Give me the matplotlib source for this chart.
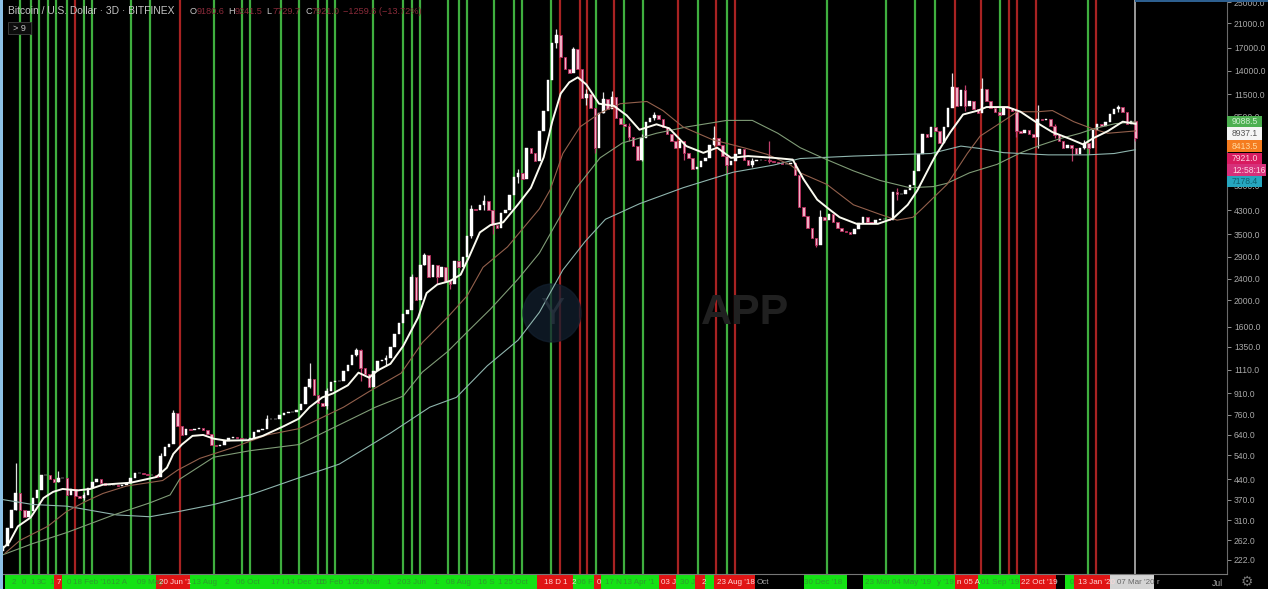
import numpy as np
import matplotlib
matplotlib.use("Agg")
from matplotlib import pyplot as plt
from matplotlib.patches import Rectangle, Circle

W, H = 1268, 589
plt.rcParams['font.family'] = ['Liberation Sans', 'DejaVu Sans']

# closes of every second 3D bar, the last one is the live bar
closes = [250, 290, 340, 390, 340, 318, 335, 375, 400, 455, 455, 440, 430, 445, 445, 385, 405, 380, 375, 385,
          410, 430, 440, 425, 420, 420, 420, 415, 420, 425, 445, 465, 465, 460, 455, 455, 450, 535, 580, 595,
          770, 690, 640, 675, 670, 675, 680, 665, 645, 590, 585, 590, 610, 625, 630, 625, 620, 620, 625, 655,
          665, 675, 730, 730, 730, 760, 770, 780, 780, 790, 830, 960, 1030, 900, 840, 820, 930, 1000, 1010, 1010,
          1100, 1160, 1260, 1310, 1130, 1070, 960, 1100, 1200, 1210, 1230, 1350, 1500, 1650, 1780, 1850, 2450, 2000, 2700, 2950,
          2450, 2700, 2450, 2650, 2350, 2300, 2800, 2650, 2900, 3450, 4350, 4300, 4500, 4650, 4300, 3780, 3700, 4200, 4300, 4900,
          5700, 5900, 5600, 7300, 6950, 6500, 8400, 10000, 13000, 17700, 19000, 15700, 14200, 13800, 16800, 14200, 11100, 11500, 10200, 7300,
          9800, 11000, 10100, 11200, 9400, 8900, 8800, 8000, 7400, 6600, 7900, 9100, 9400, 9600, 9300, 8700, 8200, 7700, 7300, 7700,
          7000, 6700, 6100, 6200, 6500, 6700, 7500, 7900, 7500, 6800, 6300, 6500, 6900, 7200, 6600, 6300, 6500, 6600, 6600, 6550,
          6500, 6450, 6400, 6350, 6350, 6400, 5800, 4400, 4100, 3700, 3400, 3200, 4050, 3950, 4150, 3900, 3700, 3600, 3580, 3500,
          3650, 3850, 4050, 3900, 3850, 3950, 3980, 4000, 3950, 5000, 4950, 4950, 5100, 5300, 6000, 6900, 8200, 8000, 8700, 8400,
          7600, 8700, 10200, 12200, 10400, 11900, 10400, 10800, 10100, 9800, 12000, 10800, 10200, 9900, 9600, 10300, 10200, 10000, 8400, 8300,
          8500, 8200, 8000, 9300, 9200, 9300, 8800, 8100, 7700, 7300, 7500, 7300, 6900, 7300, 7600, 7300, 8500, 8900, 8800, 9100,
          9700, 10100, 10300, 9900, 8900, 9180.6, 7921]

# candles with a wick worth drawing: position in closes, high, low
wick_idx = [3, 13, 19, 37, 40, 62, 72, 76, 83, 84, 90, 96, 99, 102, 105, 110, 113, 115, 121, 130, 134, 137, 139, 141, 143, 147, 150,
            153, 160, 167, 170, 176, 180, 191, 192, 210, 223, 226, 230, 238, 243, 247, 251, 254, 255, 262, 266]
wick_high = [505, 470, 395, 550, 790, 760, 1180, 950, 1340, 1330, 1260, 2500, 3000, 2600, 2400, 4500, 4900, 3900, 6100, 20000, 17200, 12000, 9000, 11700, 11800, 9000, 8200,
             9900, 7300, 8800, 6500, 6700, 7700, 3300, 4300, 5200, 13700, 12400, 13200, 10200, 10500, 8900, 7500, 7800, 7600, 10500, 9241.5]
wick_low = [340, 430, 370, 500, 600, 700, 950, 800, 1250, 1010, 1150, 1950, 2700, 2300, 2200, 3400, 4300, 3500, 5400, 17000, 14000, 10500, 6950, 9800, 10200, 7700, 6500,
            9200, 6600, 7400, 5900, 6200, 6400, 3150, 3250, 4700, 10800, 10000, 10600, 8000, 7300, 7900, 6500, 7200, 6900, 9900, 7729.7]

white_x = [0, 3, 7, 13, 16, 19, 23.5, 28, 35, 41, 47, 60, 72, 77, 80, 84, 89, 94, 99, 105, 115, 122, 132, 139, 144, 150, 155,
           162, 167, 172, 176, 182, 188, 195, 199, 204, 210, 215, 219, 224, 229, 235, 242, 248, 254, 258, 262, 266, 270, 274,
           280, 287, 293, 299, 307, 313, 321, 329, 335.5, 342, 350, 362, 371, 376, 382.5, 388, 393, 401, 411, 418, 425, 429.5,
           436, 438, 445, 451, 458, 462, 472, 478, 486, 493, 501, 507.5, 512, 519, 526, 532]
white_y = [245, 258, 295, 318, 345, 375, 395, 405, 400, 405, 420, 427, 448, 485, 545, 590, 635, 640, 620, 610, 612, 635, 690, 735, 810, 880, 910,
           975, 1085, 1040, 1105, 1170, 1360, 1730, 2130, 2290, 2360, 2490, 2900, 3560, 3790, 3880, 4520, 5200, 6730, 9100, 11550, 12700, 13250, 12480,
           10600, 10400, 9600, 8500, 8900, 8600, 7400, 6990, 7300, 6700, 6800, 6700, 6600, 5600, 4700, 4340, 4050, 3830, 3830, 4000, 4500, 5080,
           6370, 6810, 8320, 9670, 10000, 10300, 10300, 9900, 8990, 8330, 7880, 7500, 7900, 8400, 9100, 8937.1]

brown_x = [1, 8, 21, 30, 39, 47, 58, 75, 82, 92.5, 108, 124, 139, 160, 172, 187, 197, 209, 218, 225.5, 237, 252, 257, 263, 271, 280.5,
           290, 302.5, 310, 319.5, 333.5, 348, 359, 370, 374.5, 387, 399.5, 412, 420, 427.5, 432, 443.5, 453, 459, 468.5, 476.5,
           486, 493, 503, 512, 519, 532]
brown_y = [235, 262, 295, 335, 365, 390, 415, 435, 475, 525, 575, 640, 675, 810, 925, 1080, 1400, 1740, 2080, 2650, 3150, 4350, 5100, 6950, 8700, 9800,
           10600, 10800, 10000, 8700, 7800, 7300, 6900, 6300, 5900, 5350, 4500, 4150, 3950, 4050, 4370, 5350, 6950, 8050, 9000, 9900,
           9900, 10000, 9100, 8560, 8250, 8413.5]

sage_x = [0, 14, 30, 52, 69, 78.5, 83, 99, 116, 139, 175, 188, 197, 209, 218, 229, 242, 252, 269, 280.5, 291, 307, 321, 340, 352, 364,
          374.5, 385, 399.5, 412, 426, 437, 443.5, 454, 467, 478, 487, 497, 506, 512, 522.5, 532]
sage_y = [232, 255, 280, 325, 360, 385, 440, 530, 560, 590, 810, 890, 1090, 1300, 1530, 1860, 2400, 2990, 5150, 6700, 7600, 8250, 8700, 9200, 9200, 8250,
          7300, 6700, 6000, 5530, 5200, 5250, 5400, 5900, 6340, 6990, 7440, 7900, 8250, 8560, 8950, 9088.5]

teal_x = [0, 14, 30, 53.5, 69, 83, 99, 116, 139, 158, 182, 200.5, 213, 227.5, 242, 252, 263, 273.5, 283, 299, 319.5, 343, 362, 374.5,
          399.5, 436, 450, 459, 470, 491, 509.5, 522, 532]
teal_y = [370, 355, 350, 325, 320, 335, 355, 385, 445, 500, 650, 810, 880, 1150, 1430, 1810, 2590, 3300, 3980, 4540, 5200, 5930, 6300, 6660,
          6800, 6950, 7400, 7250, 7000, 6870, 6870, 6950, 7178.4]

green_lines = [8, 13, 17, 21, 25, 30, 38, 42, 60, 69, 99, 112.5, 116, 130.5, 139, 148, 152, 156, 174, 188, 192, 196,
               209, 214, 218, 230.5, 240, 244, 257.5, 278.5, 291.5, 300.5, 326.5, 340, 387, 415, 428.5, 438, 468.5, 509.5]
red_lines = [34, 83, 261.5, 271, 274.5, 287, 317, 335, 344, 447, 459.5, 472.5, 476.5, 485.5, 513.5]
cursor_bar = 532

price_ticks = [222, 262, 310, 370, 440, 540, 640, 760, 910, 1110, 1350, 1600, 2000, 2400, 2900, 3500, 4300, 5300,
               9500, 11500, 14000, 17000, 21000, 25000]

# date strip: start bar, end bar
strip_green = [(1, 24), (27.7, 72), (87.7, 251), (268, 277.5), (281, 308), (316, 325), (329.6, 334), (376.5, 396.6),
               (404, 447), (458, 477.7), (499, 503)]
strip_red = [(24, 27.7), (72, 87.7), (251, 268), (277.5, 281), (308, 316), (325, 329.6), (334, 353.5), (447, 458),
             (477.7, 494.6), (503, 520)]
strip_grey = [(520, 540.6)]

green_dates = ["2", "0", "1", "3C", "1", "0", "18 Feb '16", "12 A", "09 May", "13 Aug", "2", "06 Oct", "17 I", "14 Dec '16",
               "15 Feb '17", "29 Mar", "1", "2", "03 Jun", "1:", "08 Aug", "16 S", "1", "25 Oct", "06 F", "17 N", "13 Apr '1",
               "30 J", "30 Dec '18", "23 Mar", "04 May '19", "y '19", "01 Sep '19", "0"]
green_date_bars = [5, 10, 14, 18, 23, 31, 42, 54.5, 69, 94.5, 105, 115, 129, 142, 157, 171, 181, 186, 193, 204, 214, 227, 233.5,
                   241, 273.5, 287, 298.5, 321.5, 385.5, 411, 427, 442.5, 468.5, 502]
red_dates = ["7", "20 Jun '1", "18 D", "1", "2", "0", "03 J", "2", "23 Aug '18", "n", "05 A", "22 Oct '19", "13 Jan '20"]
red_date_bars = [26, 81, 258, 264, 268, 280, 312.5, 329, 344.5, 449, 455, 487, 513.5]

# price tags right of the chart, top to bottom
tag_texts = ["9088.5", "8937.1", "8413.5", "7921.0", "12:58:16", "7178.4"]
tag_colors = ["#4caf50", "#f5f5f5", "#f57c1f", "#d81b60", "#d6307a", "#26a6bf"]
tag_text_colors = ["#d0f0d0", "#555555", "#ffd9a0", "#ffd0e0", "#ffd0e0", "#0f5f70"]
tag_tops = [116, 127.5, 140, 152.5, 164, 176]
tag_bottoms = [127.5, 140, 152.5, 164, 176, 187]
tag_widths = [35, 35, 35, 35, 39, 35]


closes = np.array(closes, dtype=float)
bars = np.arange(len(closes)) * 2
opens = np.concatenate(([closes[0] * 0.96], closes[:-1]))
up = closes >= opens

fig = plt.figure(figsize=(W / 100, H / 100), dpi=100, facecolor='black')
ax = fig.add_axes([3 / W, (H - 574) / H, 1224 / W, 574 / H], facecolor='black')
ax.set_yscale('log')
ax.set_xlim(0, 575)
ax.set_ylim(197, 25520)

ax.vlines(green_lines, 197, 25520, color='#3fae3f', lw=1.6, zorder=1)
ax.vlines(red_lines, 197, 25520, color='#a82222', lw=1.6, zorder=1)
ax.axvline(cursor_bar, color='#9a9a9a', lw=1.4, zorder=1)

# watermark
wm = Circle((552, H - 313), 29, transform=None, color='#121f2e', alpha=0.75, zorder=2)
ax.add_patch(wm)
fig.text(552 / W, 1 - 314 / H, "Y", color='#2c3744', fontsize=26, ha='center', va='center', alpha=0.7, zorder=3)
fig.text(745 / W, 1 - 313 / H, "APP", color='#202020', fontsize=31, fontweight='bold', ha='center', va='center', zorder=3)

ax.vlines(bars[wick_idx], wick_low, wick_high,
          color=['#e0e0e0' if up[i] else '#c2406e' for i in wick_idx], lw=0.9, zorder=3)
ax.bar(bars[up], closes[up] - opens[up], bottom=opens[up], width=1.2, color='white', edgecolor='white', lw=0.3, zorder=4)
ax.bar(bars[~up], opens[~up] - closes[~up], bottom=closes[~up], width=1.2, color='#eeb0c4', edgecolor='#b82a5c', lw=0.6, zorder=4)

ax.plot(teal_x, teal_y, color='#8fb5ae', lw=0.8, zorder=5)
ax.plot(sage_x, sage_y, color='#7f9b76', lw=0.8, zorder=5)
ax.plot(brown_x, brown_y, color='#93604c', lw=0.8, zorder=5)
ax.plot(white_x, white_y, color='#fbfbf0', lw=1.4, zorder=6)

ax.yaxis.tick_right()
ax.set_yticks(price_ticks)
ax.set_yticklabels(["%.1f" % p for p in price_ticks])
ax.minorticks_off()
ax.tick_params(axis='y', colors='#a8a8a8', labelsize=6.2, length=3, width=0.6, pad=2)
ax.set_xticks([])
for side in ['left', 'top', 'bottom']:
    ax.spines[side].set_visible(False)
ax.spines['right'].set_color('#6a6a6a')

# date strip under the chart
strip = fig.add_axes([3 / W, 0, 1224 / W, (H - 574) / H], facecolor='black')
strip.set_xlim(0, 575)
strip.set_ylim(0, 1)
strip.set_xticks([])
strip.set_yticks([])
for side in strip.spines:
    strip.spines[side].set_visible(False)
strip.spines['top'].set_visible(True)
strip.spines['top'].set_color('#777777')
for a, b in strip_green:
    strip.axvspan(a, b, color='#14e214', lw=0)
for a, b in strip_red:
    strip.axvspan(a, b, color='#e01414', lw=0)
for a, b in strip_grey:
    strip.axvspan(a, b, color='#d4d4d4', lw=0)
for x, t in zip(green_date_bars, green_dates):
    strip.text(x, 0.42, t, color='#2f9a2f', fontsize=5.8, ha='center', va='center')
for x, t in zip(red_date_bars, red_dates):
    strip.text(x, 0.42, t, color='#ffd8d8', fontsize=5.8, ha='center', va='center')
strip.text(532, 0.42, "07 Mar '20", color='#666666', fontsize=5.8, ha='center', va='center')
strip.text(357, 0.42, "Oct", color='#a8a8a8', fontsize=5.8, ha='center', va='center')
strip.text(542.5, 0.42, "r", color='#a8a8a8', fontsize=5.8, ha='center', va='center')
fig.text(1217 / W, 1 - 583 / H, "Jul", color='#a8a8a8', fontsize=6.2, ha='center', va='center')
fig.text(1247 / W, 1 - 582 / H, "\u2699", color='#777777', fontsize=10, ha='center', va='center')

# price tags
for t, c, tc, top, bot, w in zip(tag_texts, tag_colors, tag_text_colors, tag_tops, tag_bottoms, tag_widths):
    fig.patches.append(Rectangle((1227 / W, 1 - bot / H), w / W, (bot - top) / H,
                                 transform=fig.transFigure, color=c, lw=0, zorder=8))
    fig.text(1232 / W, 1 - (top + bot) / 2 / H, t, color=tc, fontsize=6.2, ha='left', va='center', zorder=9)

# left border and top border
fig.patches.append(Rectangle((0, 0), 3 / W, 1, transform=fig.transFigure, color='#8cc0e6', lw=0, zorder=8))
fig.patches.append(Rectangle((1135 / W, 1 - 1.5 / H), 133 / W, 1.5 / H, transform=fig.transFigure, color='#2d5f8f', lw=0, zorder=8))

# header
fig.text(8 / W, 1 - 11 / H, "Bitcoin / U.S. Dollar \u00b7 3D \u00b7 BITFINEX", color='#c4c4c4', fontsize=7.4, va='center', zorder=9)
ohlc_x = [190, 228, 266, 305]
ohlc_k = ["O", "H", "L", "C"]
ohlc_v = ["9180.6", "9241.5", "7729.7", "7921.0"]
for x, k, v in zip(ohlc_x, ohlc_k, ohlc_v):
    fig.text(x / W, 1 - 11 / H, k, color='#c4c4c4', fontsize=6.6, va='center', zorder=9)
    fig.text((x + 7) / W, 1 - 11 / H, v, color='#8a2b3a', fontsize=6.6, va='center', zorder=9)
fig.text(343 / W, 1 - 11 / H, "\u22121259.6 (\u221213.72%)", color='#8a2b3a', fontsize=6.6, va='center', zorder=9)
fig.patches.append(Rectangle((8 / W, 1 - 34 / H), 23 / W, 12 / H, transform=fig.transFigure,
                             facecolor='#0c0c0c', edgecolor='#3a3a3a', lw=0.7, zorder=8))
fig.text(19.5 / W, 1 - 28.5 / H, "> 9", color='#c4c4c4', fontsize=6.5, ha='center', va='center', zorder=9)

fig.savefig('out.png', dpi=100, facecolor='black')
